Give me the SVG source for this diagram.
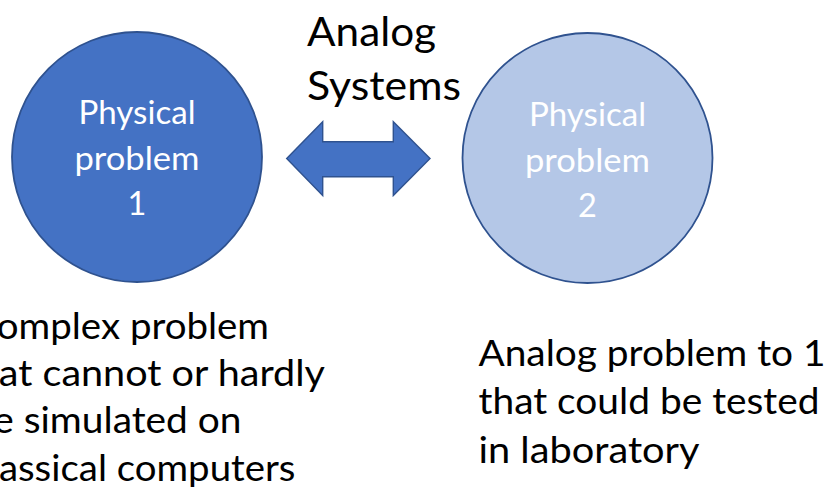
<svg xmlns="http://www.w3.org/2000/svg" width="831" height="501" viewBox="0 0 831 501">
  <style>
    .node1 { fill: #4472C4; stroke: #2F528F; stroke-width: 1.8; }
    .node2 { fill: #B4C7E7; stroke: #2F528F; stroke-width: 1.8; }
    .ntext { font-family: Lato, "Liberation Sans", sans-serif; font-size: 32.5px; fill: #FFFFFF; text-anchor: middle; }
    .label { font-family: Lato, "Liberation Sans", sans-serif; fill: #000000; }
    .big { font-size: 41.5px; }
    .body { font-size: 37.3px; }
    .arrow { fill: #4472C4; stroke: #2F528F; stroke-width: 1.4; stroke-linejoin: miter; }
  </style>
  <rect x="0" y="0" width="831" height="501" fill="#FFFFFF"/>

  <g id="connectors">
    <polygon class="arrow" points="286.7,158.5 322.7,121.7 322.7,141.7 393.3,141.7 393.3,121.7 430,158.5 393.3,195.5 393.3,176.7 322.7,176.7 322.7,195.5"/>
    <text class="label big" x="307" y="45.5" textLength="129" lengthAdjust="spacingAndGlyphs">Analog</text>
    <text class="label big" x="307" y="100" textLength="154" lengthAdjust="spacingAndGlyphs">Systems</text>
  </g>

  <g id="node1">
    <circle class="node1" cx="137" cy="157" r="125"/>
    <text class="ntext" x="137" y="124" textLength="117" lengthAdjust="spacingAndGlyphs">Physical</text>
    <text class="ntext" x="137" y="169.5" textLength="125" lengthAdjust="spacingAndGlyphs">problem</text>
    <text class="ntext" x="137" y="215">1</text>
  </g>

  <g id="node2">
    <circle class="node2" cx="587.5" cy="158" r="125"/>
    <text class="ntext" x="587.5" y="126" textLength="117" lengthAdjust="spacingAndGlyphs">Physical</text>
    <text class="ntext" x="587.5" y="171.5" textLength="125" lengthAdjust="spacingAndGlyphs">problem</text>
    <text class="ntext" x="587.5" y="217">2</text>
  </g>

  <g id="note1">
    <text class="label body" x="-28.5" y="339" textLength="297.5" lengthAdjust="spacingAndGlyphs">Complex problem</text>
    <text class="label body" x="-37.5" y="386" textLength="362.5" lengthAdjust="spacingAndGlyphs">that cannot or hardly</text>
    <text class="label body" x="-28.5" y="433" textLength="270" lengthAdjust="spacingAndGlyphs">be simulated on</text>
    <text class="label body" x="-28.5" y="480.5" textLength="324" lengthAdjust="spacingAndGlyphs">classical computers</text>
  </g>

  <g id="note2">
    <text class="label body" x="478.5" y="366" textLength="347" lengthAdjust="spacingAndGlyphs">Analog problem to 1</text>
    <text class="label body" x="478.5" y="414" textLength="341" lengthAdjust="spacingAndGlyphs">that could be tested</text>
    <text class="label body" x="478.5" y="462.5" textLength="221" lengthAdjust="spacingAndGlyphs">in laboratory</text>
  </g>
</svg>
